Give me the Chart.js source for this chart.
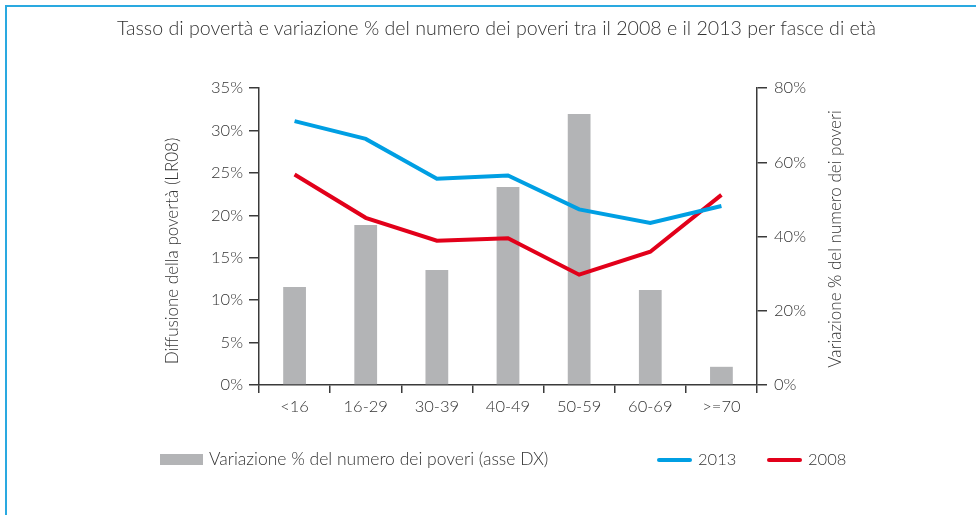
<!DOCTYPE html>
<html>
<head>
<meta charset="utf-8">
<script src="https://cdn.jsdelivr.net/npm/chart.js@4"></script>
<style>
  body { margin: 0; background: #fff; }
  #wrap { position: relative; width: 976px; height: 515px; overflow: hidden; font-family: Lato, sans-serif; font-weight: 300; color: #333; }
  #frame { position: absolute; left: 5px; top: 5px; width: 1000px; height: 600px; border-top: 2px solid #2aa9e0; border-left: 2px solid #2aa9e0; }
  #title { position: absolute; left: 0; width: 993px; top: 16px; text-align: center; font-size: 19.6px; }
  .leg { position: absolute; top: 448px; font-size: 17.5px; line-height: 22px; }
  .sw { position: absolute; }
</style>
</head>
<body>
<div id="wrap">
  <div id="frame"></div>
  <div id="title">Tasso di povertà e variazione % del numero dei poveri tra il 2008 e il 2013 per fasce di età</div>
  <canvas id="chart" width="976" height="515"></canvas>
  <div class="sw" style="left:160px;top:454px;width:43px;height:11px;background:#b3b4b6"></div>
  <div class="leg" style="left:209px">Variazione % del numero dei poveri (asse DX)</div>
  <div class="sw" style="left:657px;top:458px;width:35px;height:4px;border-radius:2px;background:#009fe3"></div>
  <div class="leg" style="left:698px;font-size:16.5px">2013</div>
  <div class="sw" style="left:767px;top:458px;width:35px;height:4px;border-radius:2px;background:#e2001a"></div>
  <div class="leg" style="left:808px;font-size:16.5px">2008</div>
</div>
<script>
const categories = ['<16', '16-29', '30-39', '40-49', '50-59', '60-69', '>=70'];
const variazione = [26.4, 43.1, 31.0, 53.3, 73.0, 25.6, 4.9];
const tasso2013 = [31.1, 29.0, 24.3, 24.7, 20.7, 19.1, 21.1];
const tasso2008 = [24.8, 19.7, 17.0, 17.3, 13.0, 15.7, 22.4];

const axisColor = '#3a3a3a';
const tickFont = { family: 'Lato', size: 16.5, weight: 300 };

// both axis titles read bottom-to-top, so draw them here
const axisTitles = {
    id: 'axisTitles',
    afterDraw(chart) {
        const c = chart.ctx;
        c.save();
        c.fillStyle = '#333';
        c.font = '300 17px Lato';
        c.textAlign = 'center';
        c.textBaseline = 'middle';
        const items = [
            [173, 251, 'Diffusione della povertà (LR08)'],
            [836, 239, 'Variazione % del numero dei poveri']
        ];
        items.forEach(([x, y, t]) => {
            c.save();
            c.translate(x, y);
            c.rotate(-Math.PI / 2);
            c.fillText(t, 0, 0);
            c.restore();
        });
        c.restore();
    }
};

const ctx = document.querySelector('#chart').getContext('2d');
const chart = new Chart(ctx, {
    type: 'bar',
    data: {
        labels: categories,
        datasets: [{
            type: 'line',
            label: '2013',
            data: tasso2013,
            yAxisID: 'y',
            borderColor: '#009fe3',
            borderWidth: 4,
            pointRadius: 0,
            tension: 0,
            order: 1
        }, {
            type: 'line',
            label: '2008',
            data: tasso2008,
            yAxisID: 'y',
            borderColor: '#e2001a',
            borderWidth: 4,
            pointRadius: 0,
            tension: 0,
            order: 1
        }, {
            type: 'bar',
            label: 'Variazione % del numero dei poveri (asse DX)',
            data: variazione,
            yAxisID: 'y1',
            backgroundColor: '#b3b4b6',
            categoryPercentage: 1,
            barPercentage: 0.32,
            order: 2
        }]
    },
    options: {
        responsive: false,
        animation: false,
        layout: { padding: { left: 160, right: 126, top: 88, bottom: 90 } },
        plugins: {
            legend: { display: false },
            title: { display: false },
            tooltip: { enabled: false }
        },
        scales: {
            x: {
                offset: true,
                afterFit: (s) => { s.height = 40; },
                grid: { offset: true, drawOnChartArea: false, tickLength: 8, color: axisColor, lineWidth: 1.5 },
                border: { color: axisColor, width: 1.5 },
                ticks: { color: '#333', font: tickFont, padding: 4 }
            },
            y: {
                position: 'left',
                min: 0,
                max: 35,
                afterFit: (s) => { s.width = 99; },
                grid: { drawOnChartArea: false, tickLength: 10, color: axisColor, lineWidth: 1.5 },
                border: { color: axisColor, width: 1.5 },
                ticks: { stepSize: 5, color: '#333', font: tickFont, padding: 6, callback: (v) => v + '%' }
            },
            y1: {
                position: 'right',
                min: 0,
                max: 80,
                afterFit: (s) => { s.width = 93; },
                grid: { drawOnChartArea: false, tickLength: 10, color: axisColor, lineWidth: 1.5 },
                border: { color: axisColor, width: 1.5 },
                ticks: { stepSize: 20, color: '#333', font: tickFont, padding: 7, callback: (v) => v + '%' }
            }
        }
    },
    plugins: [axisTitles]
});
</script>
</body>
</html>
